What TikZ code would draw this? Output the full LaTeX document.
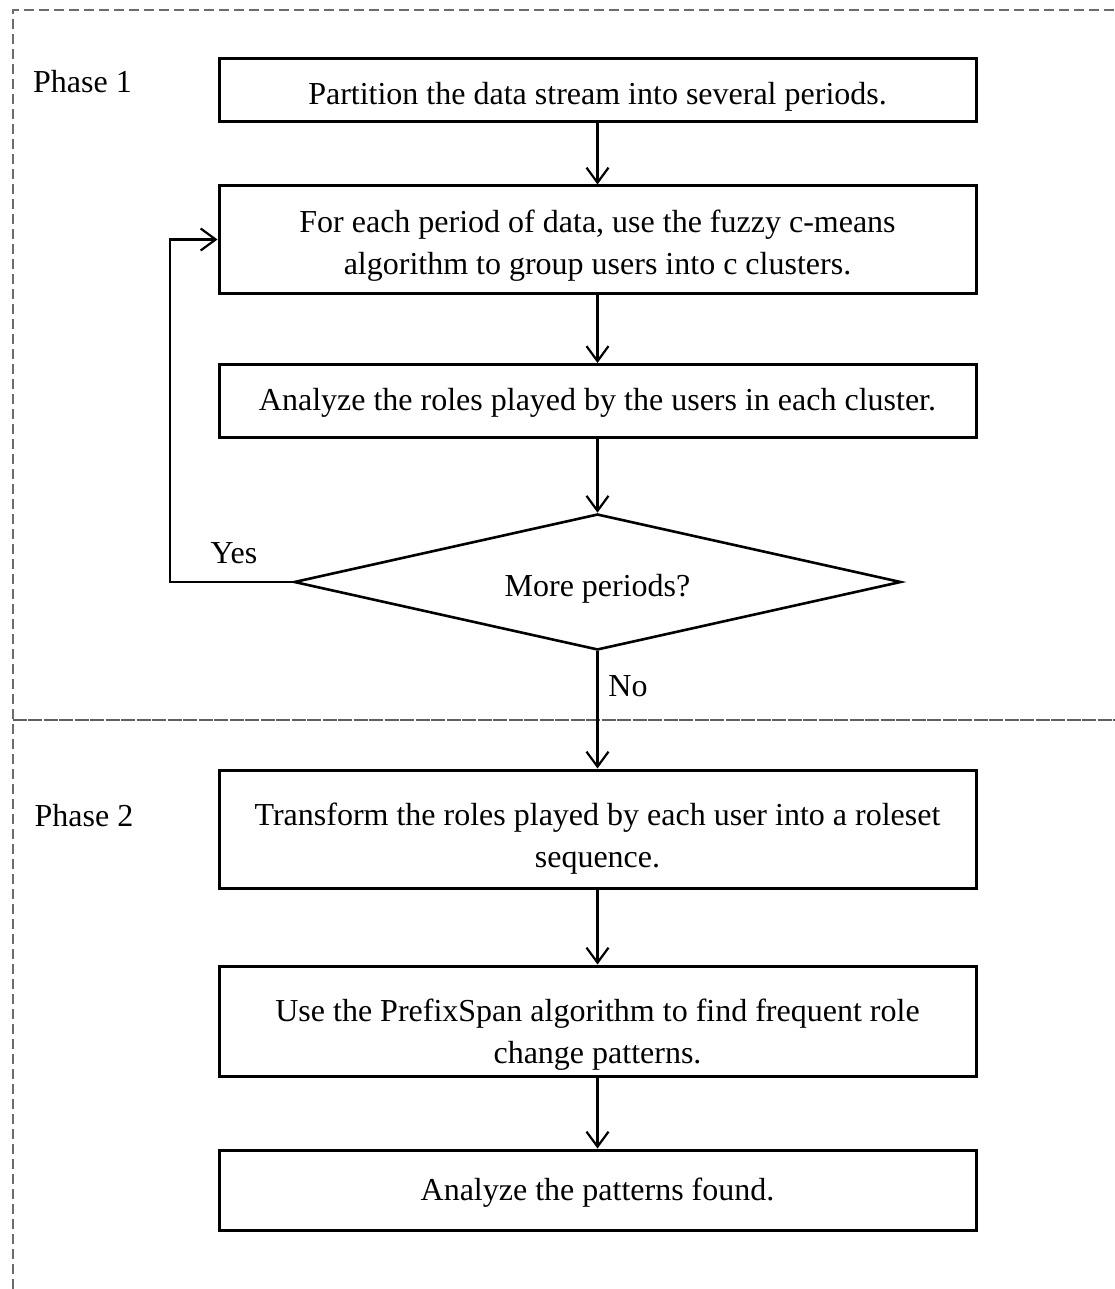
\documentclass[tikz,border=0pt]{standalone}
\usepackage{fontspec}
\setmainfont{Liberation Serif}
\usetikzlibrary{arrows.meta,shapes.geometric}
\begin{document}
\begin{tikzpicture}[x=1pt,y=-1pt,
  txt/.style={font=\fontsize{32}{42}\selectfont, align=center, inner sep=0pt},
  box/.style={draw, line width=3pt, minimum width=757pt, inner sep=0pt},
  dec/.style={draw, diamond, line width=2.6pt, minimum width=607pt, minimum height=136pt, aspect=4.46, inner sep=0pt},
  arr/.style={line width=2.2pt, -{Straight Barb[length=15pt,width=22pt,line width=2.2pt]}},
  frame/.style={draw=gray!85!black, line width=2pt, dash pattern=on 10pt off 5pt},
  divider/.style={draw=gray!75!black, line width=2.4pt, dash pattern=on 14pt off 1.5pt}]
\useasboundingbox (0,0) rectangle (1115,1289);
\fill[white] (0,0) rectangle (1115,1289);
\coordinate (fbl) at (12.5,1289);
\coordinate (ftl) at (12.5,10.5);
\coordinate (ftr) at (1115,10.5);
\draw[frame] (fbl) -- (ftl) -- (ftr);
\coordinate (dl) at (12.5,720);
\coordinate (dr) at (1115,720);
\draw[divider] (dl) -- (dr);

\node[txt] (p1) at (82.5,82) {Phase 1};
\node[txt] (p2) at (84,816) {Phase 2};

\node[box, minimum height=63pt] (b1) at (597.5,90) {};
\node[box, minimum height=107pt] (b2) at (597.5,239.5) {};
\node[box, minimum height=73pt] (b3) at (597.5,401) {};
\node[dec] (d) at (597.5,582) {};
\node[box, minimum height=118pt] (b4) at (597.5,829) {};
\node[box, minimum height=110pt] (b5) at (597.5,1021) {};
\node[box, minimum height=80pt] (b6) at (597.5,1190) {};

\node[txt] (t1) at ([yshift=-7pt]b1.center) {Partition the data stream into several periods.};
\node[txt] (t2) at ([yshift=-6pt]b2.center) {For each period of data, use the fuzzy c-means\\algorithm to group users into c clusters.};
\node[txt] (t3) at ([yshift=-2pt]b3.center) {Analyze the roles played by the users in each cluster.};
\node[txt] (td) at ([yshift=-7pt]d.center) {More periods?};
\node[txt] (t4) at ([yshift=-10pt]b4.center) {Transform the roles played by each user into a roleset\\sequence.};
\node[txt] (t5) at ([yshift=-14pt]b5.center) {Use the PrefixSpan algorithm to find frequent role\\change patterns.};
\node[txt] (t6) at ([yshift=-3pt]b6.center) {Analyze the patterns found.};

\draw[arr] (b1) -- (b2);
\draw[arr] (b2) -- (b3);
\draw[arr] (b3) -- (d);
\draw[arr] (d.west) -- ++(-123,0) coordinate (yc) |- (b2.west);
\draw[arr] (d) -- (b4);
\draw[arr] (b4) -- (b5);
\draw[arr] (b5) -- (b6);

\node[txt] (yes) at (234,553) {Yes};
\node[txt] (no) at (628,686) {No};
\end{tikzpicture}
\end{document}
